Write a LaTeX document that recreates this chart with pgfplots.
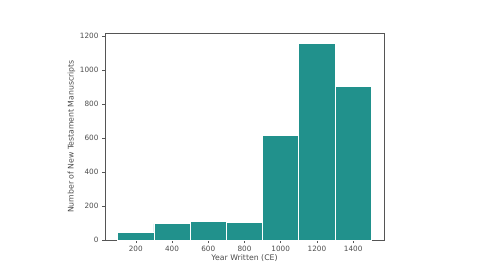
\documentclass[border=0pt]{standalone}
\usepackage{pgfplots}
\pgfplotsset{compat=1.18}
\usepackage{fontspec}
\setmainfont{DejaVu Sans}
\definecolor{barc}{HTML}{21918C}
\definecolor{axc}{HTML}{555555}
\begin{document}
\begin{tikzpicture}[x=1bp,y=1bp]
\path[use as bounding box] (0,0) rectangle (480,270);
\begin{axis}[
  at={(105bp,30bp)}, anchor=origin,
  scale only axis, width=279bp, height=207bp,
  xmin=30, xmax=1570, ymin=0, ymax=1218,
  xtick={200,400,...,1400}, ytick={0,200,...,1200},
  axis line style={axc, line width=0.5pt},
  tick style={axc, line width=0.5pt},
  tick align=outside, tick pos=lower,
  major tick length=3bp,
  ticklabel style={font=\fontsize{7.3}{8}\selectfont, text=black!70},
  /pgf/number format/assume math mode=true,
  /pgf/number format/1000 sep={},
  xlabel={Year Written (CE)}, ylabel={Number of New Testament Manuscripts},
  label style={font=\fontsize{7.8}{8.5}\selectfont, text=black!70},
  xlabel style={yshift=4bp},
  ylabel style={yshift=-2bp},
]
\addplot[ybar, bar width=200, bar shift=0pt, fill=barc, draw=white, line width=0.8pt]
coordinates {(200,47) (400,95) (600,111) (800,105) (1000,614) (1200,1159) (1400,901)};
\end{axis}
\end{tikzpicture}
\end{document}
